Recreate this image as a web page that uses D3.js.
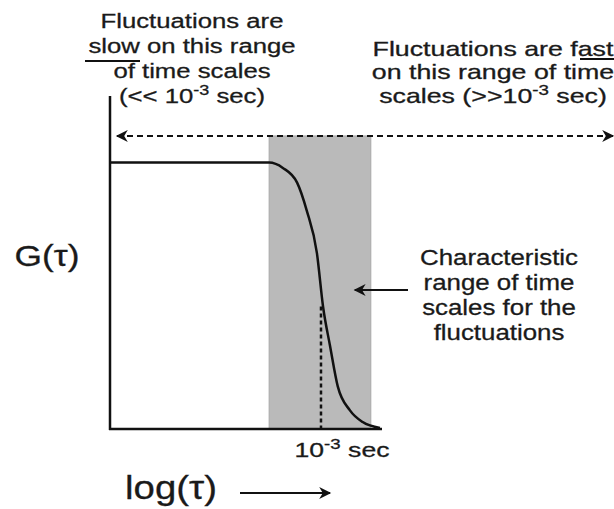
<!DOCTYPE html>
<html>
<head>
<meta charset="utf-8">
<script src="https://cdn.jsdelivr.net/npm/d3@7"></script>
<style>
  body { margin: 0; background: #fff; }
  svg { display: block; }
  text { font-family: "Liberation Sans", Arial, Helvetica, sans-serif; fill: #1a1a1a; stroke: #1a1a1a; stroke-width: 0.3px; }
</style>
</head>
<body>
<script>
// size of the picture
var widthScr = 614;
var heightScr = 509;

// the correlation curve (x = log10 of tau in sec)
var logTau = [-7.15, -4.02, -3.75, -3.47, -3.28, -3.08, -2.96, -2.82, -2.67, -2.43, -2.18, -1.84];
var gValues = [1, 1, 0.98, 0.925, 0.82, 0.66, 0.46, 0.31, 0.16, 0.07, 0.026, 0.004];

// shaded band and marked time
var bandRange = [-4.02, -2.02];
var tickValue = -3;
var tickTopG = 0.46;
var rangeArrowG = 1.1;

// texts
var slowLines = ["Fluctuations are", "slow on this range", "of time scales", "(<< 10|-3| sec)"];
var fastLines = ["Fluctuations are fast", "on this range of time", "scales (>>10|-3| sec)"];
var noteLines = ["Characteristic", "range of time", "scales for the", "fluctuations"];
var tickLabel = "10|-3| sec";

var canvas = d3.select("body").append("svg")
    .attr("width", widthScr)
    .attr("height", heightScr);

var x = d3.scaleLinear().domain([-7.15, -1.8]).range([110, 382]);
var y = d3.scaleLinear().domain([0, 1.25]).range([429, 96]);

canvas.append("defs").append("marker")
    .attr("id", "head")
    .attr("viewBox", "0 0 10 10")
    .attr("refX", 9).attr("refY", 5)
    .attr("markerWidth", 13).attr("markerHeight", 12)
    .attr("markerUnits", "userSpaceOnUse")
    .attr("orient", "auto-start-reverse")
    .append("path")
    .attr("d", "M0,0 L10,5 L0,10 L3,5 Z")
    .attr("fill", "#111");

// shaded band
canvas.append("rect")
    .attr("x", x(bandRange[0]))
    .attr("y", y(rangeArrowG))
    .attr("width", x(bandRange[1]) - x(bandRange[0]))
    .attr("height", y(0) - y(rangeArrowG))
    .attr("fill", "#bababa")
    .attr("stroke", "#a8a8a8")
    .attr("stroke-width", 1);

// dashed two-way arrow
canvas.append("line")
    .attr("x1", x.range()[0] + 7).attr("x2", widthScr - 1)
    .attr("y1", y(rangeArrowG)).attr("y2", y(rangeArrowG))
    .attr("stroke", "#111")
    .attr("stroke-width", 2)
    .attr("stroke-dasharray", "6,4")
    .attr("marker-start", "url(#head)")
    .attr("marker-end", "url(#head)");

// dotted line at 10^-3
canvas.append("line")
    .attr("x1", x(tickValue)).attr("x2", x(tickValue))
    .attr("y1", y(tickTopG)).attr("y2", y(0))
    .attr("stroke", "#111")
    .attr("stroke-width", 2.5)
    .attr("stroke-dasharray", "4,3");

// curve
var line = d3.line()
    .x(function(d, i) { return x(logTau[i]); })
    .y(function(d) { return y(d); })
    .curve(d3.curveMonotoneX);

canvas.append("path")
    .datum(gValues)
    .attr("d", line)
    .attr("fill", "none")
    .attr("stroke", "#111")
    .attr("stroke-width", 2.5);

// axes (plain lines, no ticks)
canvas.append("line")
    .attr("x1", x.range()[0]).attr("x2", x.range()[0])
    .attr("y1", y.range()[1]).attr("y2", y(0) + 1)
    .attr("stroke", "#111").attr("stroke-width", 2.5);
canvas.append("line")
    .attr("x1", x.range()[0] - 1).attr("x2", x.range()[1])
    .attr("y1", y(0)).attr("y2", y(0))
    .attr("stroke", "#111").attr("stroke-width", 2.5);

// write lines of text, "a|-3|b" puts -3 as superscript;
// the block is stretched sideways so its first line gets the wanted width
function textBlock(lines, cx, y0, dy, size, firstWidth) {
    var g = canvas.append("g");
    var texts = [];
    lines.forEach(function(str, i) {
        var t = g.append("text")
            .attr("x", 0)
            .attr("y", y0 + i * dy)
            .attr("text-anchor", "middle")
            .style("font-size", size + "px");
        str.split("|").forEach(function(part, j) {
            if (j % 2 === 1) {
                t.append("tspan")
                    .attr("dy", -size * 0.4)
                    .style("font-size", (size * 0.7) + "px")
                    .text(part);
            } else {
                var s = t.append("tspan").text(part);
                if (j > 0) s.attr("dy", size * 0.4);
            }
        });
        texts.push(t);
    });
    var w = texts[0].node().getComputedTextLength();
    g.attr("transform", "translate(" + cx + ",0) scale(" + (firstWidth / w) + ",1)");
    return g;
}

textBlock(slowLines, 192, 28, 25, 21, 183);
textBlock(fastLines, 493, 56, 23.5, 20, 241);
textBlock(noteLines, 499, 265, 25, 22, 158);
textBlock([tickLabel], 342, 457, 0, 21, 95);
textBlock(["G(τ)"], 47, 266, 0, 30, 65);
textBlock(["log(τ)"], 171, 499, 0, 34, 92);

// underline of "slow" and overline of "time"
canvas.append("line")
    .attr("x1", 85).attr("x2", 140).attr("y1", 61).attr("y2", 61)
    .attr("stroke", "#111").attr("stroke-width", 2);
canvas.append("line")
    .attr("x1", 580).attr("x2", widthScr).attr("y1", 59).attr("y2", 59)
    .attr("stroke", "#111").attr("stroke-width", 2);

// arrow to the band
canvas.append("line")
    .attr("x1", 408).attr("x2", x(bandRange[1]) - 16)
    .attr("y1", 290).attr("y2", 290)
    .attr("stroke", "#111").attr("stroke-width", 2)
    .attr("marker-end", "url(#head)");

// arrow along log(tau)
canvas.append("line")
    .attr("x1", 240).attr("x2", 330)
    .attr("y1", 493).attr("y2", 493)
    .attr("stroke", "#111").attr("stroke-width", 2)
    .attr("marker-end", "url(#head)");
</script>
</body>
</html>
